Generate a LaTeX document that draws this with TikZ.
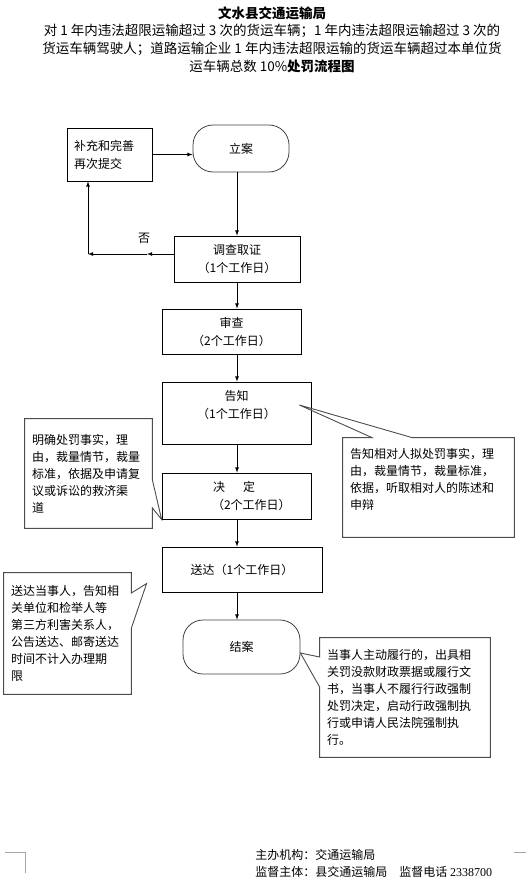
\documentclass[tikz,border=0pt]{standalone}
\usepackage{fontspec}
\setmainfont{Noto Sans CJK SC}
\newfontfamily\numfont{Liberation Serif}
\usetikzlibrary{calc}

\begin{document}
\begin{tikzpicture}[x=1pt, y=-1pt, line width=0.8pt, >=latex,
  flow/.style={draw, rectangle, inner sep=0pt, align=center, font=\fontsize{12}{18}\selectfont},
  term/.style={draw=black!75, rectangle, rounded corners=20pt, inner sep=0pt, font=\fontsize{12}{18}\selectfont},
  note/.style={inner xsep=7pt, inner ysep=0pt, align=left, font=\fontsize{12}{17}\selectfont},
  callout/.style={draw=black!70, line width=0.9pt}]

\useasboundingbox (0,0) rectangle (526,883);

\def \axis {237} % x of the main arrows
\coordinate (axis) at (\axis,0);

% title
\node[font=\fontsize{13.5}{18}\selectfont\bfseries] (title) at (272,13) {文水县交通运输局};
\node[font=\fontsize{13.5}{18}\selectfont, align=center] (sub) at (272,48)
  {对 1 年内违法超限运输超过 3 次的货运车辆；1 年内违法超限运输超过 3 次的\\
   货运车辆驾驶人；道路运输企业 1 年内违法超限运输的货运车辆超过本单位货\\
   运车辆总数 10\%\textbf{处罚流程图}};

% flow
\node[flow, minimum width=85, minimum height=53, text width=71, align=left] (buchong) at (109.5,154.5) {补充和完善\\再次提交};
\node[term, minimum width=96, minimum height=47] (lian) at (241,148.5) {立案};
\node[flow, minimum width=126, minimum height=46] (diaocha) at (237,259) {调查取证\\（1个工作日）};
\node[flow, minimum width=139, minimum height=45] (shencha) at (231.5,331.5) {审查\\（2个工作日）};
\node[flow, minimum width=149, minimum height=62] (gaozhi) at (236.5,413) {告知\\（1个工作日）\\ \mbox{}};
\node[flow, minimum width=149, minimum height=46, text width=149, align=left] (jueding) at (236.5,496)
  {\hspace*{51pt}决\hspace{18pt}定\\\hspace*{50pt}（2个工作日）};
\node[flow, minimum width=160, minimum height=45] (songda) at (242,569.5) {送达（1个工作日）};
\node[term, minimum width=117, minimum height=54] (jiean) at (241.5,647) {结案};

\draw[->] (buchong.east) -- (lian.west |- buchong.east);
\draw[->] (lian.south -| axis) -- (diaocha.north -| axis);
\draw[->] (diaocha.south -| axis) -- (shencha.north -| axis);
\draw[->] (shencha.south -| axis) -- (gaozhi.north -| axis);
\draw[->] (gaozhi.south -| axis) -- (jueding.north -| axis);
\draw[->] (jueding.south -| axis) -- (songda.north -| axis);
\draw[->] (songda.south -| axis) -- (jiean.north -| axis);

% back to buchong
\coordinate (bend) at (88,254);
\coordinate (mid) at (147,254);
\draw[->] (diaocha.west |- bend) -- (mid);
\draw[->] (mid) -- (bend);
\draw[->] (bend) -- (buchong.south -| bend);
\node[font=\fontsize{12}{14}\selectfont] (fou) at (144,238) {否};

% notes
\node[note, text width=113, minimum height=109] (mingque) at (88.5,473.5)
  {明确处罚事实，理\\由，裁量情节，裁量\\标准，依据及申请复\\议或诉讼的救济渠\\道};
\draw[callout] (mingque.north west) -- (mingque.north east) -- (mingque.east |- 0,480)
  -- (jueding.south west) -- (mingque.east |- 0,508) -- (mingque.south east)
  -- (mingque.south west) -- cycle;

\node[note, text width=157, minimum height=99] (xiangdui) at (428.5,487.5)
  {告知相对人拟处罚事实，理\\由，裁量情节，裁量标准，\\依据，听取相对人的陈述和\\申辩\\ \mbox{}};
\draw[callout] (xiangdui.north west) -- (xiangdui.north west -| 372,0)
  -- ($(gaozhi.east)+(-12,-8)$) -- (xiangdui.north west -| 412,0) -- (xiangdui.north east)
  -- (xiangdui.south east) -- (xiangdui.south west) -- cycle;

\node[note, text width=113, minimum height=121] (dangshi) at (67.5,633.5)
  {送达当事人，告知相\\关单位和检举人等\\第三方利害关系人，\\公告送达、邮寄送达\\时间不计入办理期\\限};
\draw[callout] (dangshi.north west) -- (dangshi.north east) -- (dangshi.east |- 0,593)
  -- ($(songda.west)+(-15,14)$) -- (dangshi.east |- 0,628) -- (dangshi.south east)
  -- (dangshi.south west) -- cycle;

\node[note, text width=156, minimum height=119] (lvxing) at (405,697.5)
  {当事人主动履行的，出具相\\关罚没款财政票据或履行文\\书，当事人不履行行政强制\\处罚决定，启动行政强制执\\行或申请人民法院强制执\\行。};
\draw[callout] (lvxing.north west) -- (lvxing.north east) -- (lvxing.south east)
  -- (lvxing.south west) -- (lvxing.west |- 0,687) -- ($(jiean.east)+(0,6)$)
  -- (lvxing.west |- 0,657) -- cycle;

% footer
\node[anchor=west, inner sep=0pt, font=\fontsize{12}{14}\selectfont] (zhuban) at (255,855) {主办机构：交通运输局};
\node[anchor=west, inner sep=0pt, font=\fontsize{12}{14}\selectfont] (jiandu) at (255,872)
  {监督主体：县交通运输局\hspace{12pt}监督电话 {\numfont 2338700}};
\draw[black!35, line width=0.8pt] (5,852) -- (25,852) -- (25,873);
\draw[black!35, line width=0.8pt] (514,852) -- (526,852);
\end{tikzpicture}
\end{document}
